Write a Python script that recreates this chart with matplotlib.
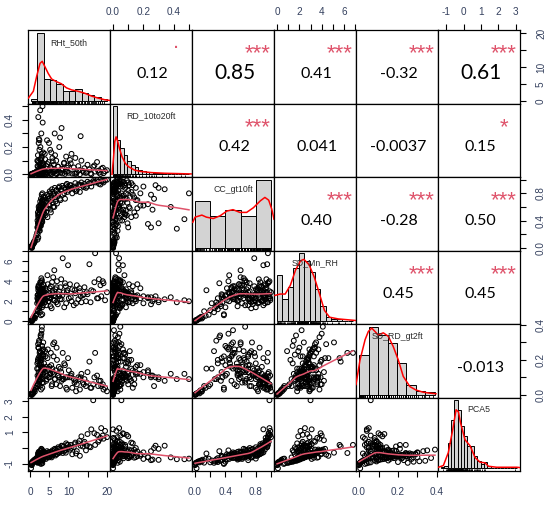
import numpy as np
import matplotlib
matplotlib.use("Agg")
import matplotlib.pyplot as plt

# ---------------- data (read/estimated from the reference) ----------------
var_names = ["RHt_50th", "RD_10to20ft", "CC_gt10ft", "SD_Mn_RH", "SD_RD_gt2ft", "PCA5"]

rht_50th = [
    0.3, 0.5, 0.4, 0.7, 0.9, 0.2, 0.6, 1.1, 0.8, 1.4, 0.3, 1.0, 0.5, 1.6, 0.4, 1.2,
    1.8, 1.9, 2.0, 2.0, 2.1, 2.1, 2.2, 2.2, 2.3, 2.3, 2.4, 2.4, 2.5, 2.5, 2.6, 2.6, 2.7, 2.7, 2.8, 2.8,
    2.9, 2.9, 3.0, 3.0, 3.1, 3.1, 3.2, 3.2, 3.3, 3.3, 3.4, 3.4,
    1.85, 1.95, 2.05, 2.15, 2.25, 2.35, 2.45, 2.55, 2.65, 2.75, 2.85, 2.95, 3.05, 3.15, 3.25, 3.35, 3.45,
    1.9, 2.0, 2.2, 2.4, 2.6, 2.8, 3.0, 3.2, 3.4, 2.1, 2.3, 2.5, 2.7, 2.9, 3.1, 3.3,
    3.6, 3.8, 4.0, 4.2, 4.4, 4.6, 4.8, 5.0, 5.2, 5.4, 5.6, 5.8, 6.0, 6.2, 6.4, 6.6, 6.8, 7.0, 7.3, 7.6,
    7.9, 8.2, 8.5, 8.8, 9.1, 9.4, 9.7, 9.9,
    3.5, 3.7, 3.9, 4.1, 4.3, 4.5, 4.7, 4.9, 5.1, 5.3, 5.5, 5.7, 5.9, 6.1, 6.3, 6.5, 6.9, 7.2, 7.5, 7.8,
    8.1, 8.4, 8.9, 9.3, 9.6, 10.1, 10.4,
    10.6, 11.0, 11.4, 11.8, 12.2, 12.6, 13.0, 13.4, 13.8, 14.2, 14.6, 15.0, 15.5, 16.0, 16.5, 17.0,
    17.5, 18.0, 18.6, 19.2, 19.6, 20.1,
    10.8, 11.6, 12.0, 12.9, 13.2, 14.0, 14.8, 15.8, 16.8, 17.8, 18.4, 19.0]
rd_10to20ft = [
    0.000, 0.002, 0.000, 0.005, 0.010, 0.000, 0.003, 0.008, 0.000, 0.015, 0.001, 0.006, 0.000, 0.020, 0.000, 0.004,
    0.010, 0.060, 0.000, 0.140, 0.025, 0.004, 0.230, 0.040, 0.012, 0.090, 0.000, 0.180, 0.030, 0.008, 0.470, 0.050,
    0.015, 0.110, 0.002, 0.070, 0.300, 0.020, 0.006, 0.130, 0.045, 0.000, 0.085, 0.500, 0.018, 0.035, 0.160, 0.003,
    0.100, 0.007, 0.055, 0.022, 0.260, 0.001, 0.075, 0.014, 0.200, 0.032, 0.009, 0.120, 0.048, 0.000, 0.380, 0.028, 0.065,
    0.005, 0.095, 0.016, 0.250, 0.038, 0.000, 0.150, 0.011, 0.068, 0.420, 0.020, 0.004, 0.105, 0.042, 0.013, 0.080,
    0.020, 0.150, 0.005, 0.060, 0.250, 0.010, 0.090, 0.030, 0.180, 0.000, 0.045, 0.120, 0.015, 0.070, 0.300, 0.025,
    0.100, 0.008, 0.055, 0.200, 0.012, 0.340, 0.040, 0.080, 0.003, 0.130, 0.020, 0.065,
    0.035, 0.002, 0.110, 0.016, 0.000, 0.075, 0.028, 0.230, 0.009, 0.050, 0.160, 0.004, 0.095, 0.022, 0.038, 0.140,
    0.001, 0.058, 0.014, 0.270, 0.033, 0.006, 0.085, 0.019, 0.048, 0.011, 0.105,
    0.080, 0.005, 0.050, 0.120, 0.015, 0.060, 0.000, 0.100, 0.025, 0.045, 0.010, 0.070, 0.035, 0.000, 0.055, 0.020,
    0.090, 0.012, 0.040, 0.008, 0.022, 0.030,
    0.150, 0.004, 0.003, 0.030, 0.280, 0.014, 0.018, 0.006, 0.065, 0.026, 0.002, 0.048]
cc_gt10ft = [
    0.01, 0.03, 0.00, 0.05, 0.08, 0.02, 0.04, 0.10, 0.06, 0.14, 0.01, 0.07, 0.02, 0.18, 0.00, 0.09,
    0.22, 0.40, 0.30, 0.52, 0.15, 0.45, 0.35, 0.60, 0.28, 0.48, 0.38, 0.62, 0.25, 0.55, 0.42, 0.68,
    0.33, 0.58, 0.46, 0.72, 0.36, 0.64, 0.50, 0.78, 0.40, 0.66, 0.55, 0.80, 0.44, 0.70, 0.58, 0.75,
    0.30, 0.20, 0.48, 0.35, 0.56, 0.26, 0.50, 0.40, 0.62, 0.32, 0.54, 0.45, 0.66, 0.38, 0.60, 0.70, 0.52,
    0.12, 0.36, 0.42, 0.30, 0.58, 0.38, 0.47, 0.64, 0.56, 0.28, 0.50, 0.34, 0.60, 0.44, 0.70, 0.49,
    0.55, 0.70, 0.48, 0.66, 0.78, 0.58, 0.72, 0.62, 0.80, 0.52, 0.74, 0.82, 0.60, 0.77, 0.88, 0.68,
    0.84, 0.65, 0.80, 0.90, 0.70, 0.86, 0.78, 0.88, 0.72, 0.92, 0.82, 0.90,
    0.62, 0.50, 0.74, 0.58, 0.68, 0.45, 0.76, 0.64, 0.83, 0.56, 0.70, 0.86, 0.66, 0.79, 0.60, 0.74,
    0.85, 0.76, 0.88, 0.72, 0.84, 0.91, 0.80, 0.87, 0.94, 0.85, 0.92,
    0.92, 0.80, 0.90, 0.95, 0.85, 0.93, 0.82, 0.96, 0.91, 0.94, 0.88, 0.97, 0.95, 0.90, 0.98, 0.96,
    0.99, 0.94, 0.98, 0.96, 0.99, 1.00,
    0.88, 0.86, 0.83, 0.93, 0.92, 0.89, 0.90, 0.95, 0.97, 0.97, 0.93, 0.98]
sd_mn_rh = [
    0.05, 0.12, 0.00, 0.30, 0.45, 0.08, 0.20, 0.40, 0.25, 0.55, 0.10, 0.35, 0.15, 0.65, 0.02, 0.28,
    1.8, 2.6, 1.2, 2.2, 3.1, 2.0, 2.4, 3.6, 1.5, 2.9, 2.3, 3.3, 0.9, 2.7, 2.1, 3.9,
    1.7, 2.5, 2.8, 3.0, 1.9, 4.3, 2.2, 3.5, 1.4, 2.6, 3.2, 2.0, 2.9, 1.6, 3.7, 2.4,
    2.3, 1.1, 3.4, 2.7, 2.0, 1.3, 3.0, 2.5, 1.8, 3.8, 2.2, 2.8, 4.1, 0.7, 2.4, 2.9, 3.2,
    1.0, 2.6, 3.3, 1.7, 2.8, 0.6, 2.5, 3.1, 2.1, 1.9, 3.5, 1.5, 2.7, 4.0, 2.3, 2.9,
    2.9, 2.2, 3.3, 1.6, 2.4, 3.7, 2.0, 2.8, 2.3, 3.5, 1.3, 3.0, 4.4, 2.6, 2.1, 3.2,
    1.9, 4.0, 2.7, 2.5, 3.4, 2.2, 6.3, 2.9, 3.8, 1.8, 3.1, 5.6,
    3.6, 2.4, 1.9, 3.1, 2.7, 4.6, 2.0, 2.3, 3.3, 1.5, 2.6, 3.9, 2.8, 2.1, 5.1, 2.5,
    3.4, 1.7, 3.0, 2.2, 4.2, 2.6, 1.4, 3.5, 2.9, 2.3, 3.7,
    2.4, 3.2, 1.6, 2.8, 3.6, 2.2, 3.0, 1.9, 2.6, 3.4, 2.0, 2.7, 5.7, 3.1, 3.0, 6.8,
    2.3, 4.2, 2.5, 3.8, 2.1, 2.9,
    2.0, 3.1, 1.8, 3.3, 2.5, 2.7, 2.9, 1.9, 3.9, 2.3, 3.6, 4.0]
sd_rd_gt2ft = [
    0.004, 0.010, 0.000, 0.015, 0.020, 0.006, 0.012, 0.030, 0.008, 0.040, 0.002, 0.025, 0.005, 0.050, 0.000, 0.018,
    0.15, 0.11, 0.20, 0.06, 0.15, 0.27, 0.13, 0.10, 0.31, 0.08, 0.22, 0.17, 0.25, 0.05, 0.12, 0.19,
    0.34, 0.09, 0.18, 0.24, 0.10, 0.21, 0.37, 0.14, 0.28, 0.07, 0.16, 0.09, 0.26, 0.23, 0.12, 0.30,
    0.18, 0.06, 0.29, 0.21, 0.11, 0.09, 0.24, 0.17, 0.13, 0.33, 0.15, 0.20, 0.39, 0.04, 0.12, 0.22, 0.26,
    0.05, 0.19, 0.27, 0.10, 0.21, 0.03, 0.16, 0.25, 0.14, 0.09, 0.30, 0.08, 0.20, 0.35, 0.13, 0.23,
    0.18, 0.13, 0.22, 0.08, 0.11, 0.26, 0.10, 0.16, 0.12, 0.24, 0.05, 0.15, 0.29, 0.12, 0.09, 0.14,
    0.06, 0.20, 0.11, 0.10, 0.15, 0.08, 0.24, 0.09, 0.17, 0.04, 0.10, 0.21,
    0.07, 0.15, 0.25, 0.16, 0.09, 0.21, 0.15, 0.14, 0.10, 0.12, 0.17, 0.06, 0.13, 0.22, 0.30, 0.09,
    0.27, 0.11, 0.16, 0.05, 0.13, 0.09, 0.18, 0.10, 0.03, 0.14, 0.10,
    0.11, 0.04, 0.09, 0.08, 0.06, 0.10, 0.03, 0.12, 0.07, 0.09, 0.05, 0.13, 0.19, 0.04, 0.06, 0.24,
    0.11, 0.08, 0.05, 0.03, 0.04, 0.02,
    0.12, 0.07, 0.02, 0.09, 0.10, 0.06, 0.07, 0.04, 0.10, 0.05, 0.08, 0.06]
pca5 = [
    -0.95, -0.90, -1.05, -0.85, -0.80, -1.30, -0.88, -0.75, -0.92, -0.70, -1.00, -0.82, -0.96, -0.68, -1.10, -0.86,
    -0.80, -0.55, -0.90, -0.62, -0.35, -0.70, -0.58, -0.25, -0.85, -0.45, -0.66, -0.40, -0.95, -0.50, -0.72, -0.18,
    -0.82, -0.60, -0.48, -0.52, -0.76, -0.05, -0.64, -0.30, -0.88, -0.56, -0.38, -0.68, -0.46, -0.78, -0.22, -0.60,
    -0.65, -0.92, -0.36, -0.50, -0.74, -0.86, -0.42, -0.58, -0.70, -0.20, -0.62, -0.48, -0.10, -0.98, -0.60, -0.44, -0.34,
    -0.94, -0.54, -0.40, -0.78, -0.50, -1.02, -0.58, -0.38, -0.66, -0.72, -0.28, -0.80, -0.52, -0.15, -0.62, -0.46,
    -0.55, -0.30, -0.62, -0.40, -0.20, -0.58, -0.45, -0.25, -0.50, -0.35, -0.60, -0.15, -0.42, -0.30, -0.05, -0.48,
    -0.22, -0.38, 0.05, -0.28, -0.10, 0.15, -0.32, 0.10, -0.18, 0.30, -0.05, 0.20,
    -0.62, -0.40, -0.55, -0.70, -0.35, -0.50, -0.28, -0.60, -0.45, -0.25, -0.52, -0.38, -0.20, -0.44, -0.30, -0.12,
    -0.40, -0.05, -0.32, 0.00, -0.22, 0.12, -0.15, -0.30, 0.20, 0.05, -0.10,
    0.20, -0.40, 0.05, 0.35, -0.20, 0.30, -0.50, 0.75, 0.10, 0.40, -0.15, 0.90, 0.10, 1.20, 3.07, 0.20,
    0.85, 0.50, 1.28, 0.60, 1.10, 0.70,
    0.00, 0.25, -0.35, 0.45, 0.15, 0.30, 0.15, 0.05, 0.95, 0.40, 0.65, 0.80]

# correlation labels (upper triangle, row-major) as printed in the reference
corr_text = ["0.12", "0.85", "0.41", "-0.32", "0.61",
             "0.42", "0.041", "-0.0037", "0.15",
             "0.40", "-0.28", "0.50",
             "0.45", "0.45",
             "-0.013"]
corr_stars = [".", "***", "***", "***", "***",
              "***", "", "", "*",
              "***", "***", "***",
              "***", "***",
              ""]

# histograms on the diagonal (bin edges, relative heights)
hist_edges = [
    [0, 1.75, 3.5, 5.25, 7, 8.75, 10.5, 12.25, 14, 15.75, 17.5, 19.25, 21],
    [0, 0.025, 0.05, 0.075, 0.1, 0.125, 0.15, 0.175, 0.2, 0.225, 0.25, 0.275, 0.3, 0.325, 0.35, 0.375,
     0.4, 0.425, 0.45, 0.475, 0.5, 0.525],
    [0, 0.2, 0.4, 0.6, 0.8, 1.0],
    [0, 0.5, 1, 1.5, 2, 2.5, 3, 3.5, 4, 4.5, 5, 5.5, 6, 6.5, 7],
    [0, 0.05, 0.1, 0.15, 0.2, 0.25, 0.3, 0.35, 0.4],
    [-1.4, -1.2, -1.0, -0.8, -0.6, -0.4, -0.2, 0.0, 0.2, 0.4, 0.6, 0.8, 1.0, 1.2, 1.4, 1.6, 1.8, 2.0,
     2.2, 2.4, 2.6, 2.8, 3.0, 3.2],
]
hist_heights = [
    [0.025, 1.0, 0.32, 0.31, 0.25, 0.15, 0.14, 0.17, 0.11, 0.09, 0.05, 0.03],
    [1.0, 0.5, 0.38, 0.28, 0.2, 0.14, 0.1, 0.07, 0.05, 0.04, 0.03, 0.02, 0.02, 0.015, 0.01, 0.008,
     0.006, 0.005, 0.004, 0.003, 0.003],
    [0.69, 0.47, 0.56, 0.47, 1.0],
    [0.68, 0.33, 0.5, 0.78, 1.0, 0.88, 0.72, 0.48, 0.22, 0.06, 0.035, 0.035, 0.01, 0.01],
    [0.59, 1.0, 0.88, 0.76, 0.47, 0.15, 0.06, 0.035],
    [0.02, 0.04, 0.375, 0.71, 1.0, 0.86, 0.62, 0.47, 0.33, 0.33, 0.18, 0.11, 0.06, 0.09, 0.04, 0.01,
     0, 0, 0, 0, 0, 0, 0.01],
]
# density curves on the diagonal
dens_x = [
    [-0.73, 0.64, 1.56, 2.48, 3.1, 3.85, 4.77, 5.7, 7.06, 8.4, 9.8, 11.2, 13, 14.9, 16.7, 18.5, 20.4, 21.8],
    [-0.007, 0.002, 0.012, 0.021, 0.03, 0.044, 0.062, 0.085, 0.108, 0.15, 0.196, 0.265, 0.357, 0.45, 0.54],
    [-0.03, 0.0, 0.09, 0.15, 0.24, 0.33, 0.42, 0.5, 0.59, 0.68, 0.77, 0.86, 0.92, 0.97, 1.01, 1.04],
    [-0.19, 0.28, 0.75, 1.23, 1.7, 2.17, 2.48, 2.96, 3.43, 3.9, 4.37, 4.84, 5.63, 7.36],
    [-0.016, 0.005, 0.032, 0.049, 0.067, 0.084, 0.1, 0.128, 0.154, 0.18, 0.207, 0.233, 0.268, 0.30,
     0.335, 0.37, 0.405],
    [-1.56, -1.26, -0.96, -0.69, -0.49, -0.35, -0.21, 0.05, 0.36, 0.66, 0.96, 1.27, 1.47, 1.97, 3.19, 3.39],
]
dens_y = [
    [0.04, 0.14, 0.36, 0.55, 0.58, 0.50, 0.40, 0.32, 0.28, 0.25, 0.19, 0.16, 0.14, 0.11, 0.07, 0.04, 0.015, 0.005],
    [0.0, 0.21, 0.48, 0.55, 0.50, 0.38, 0.26, 0.16, 0.11, 0.06, 0.04, 0.025, 0.015, 0.01, 0.005],
    [0.375, 0.45, 0.48, 0.45, 0.43, 0.47, 0.54, 0.56, 0.52, 0.52, 0.59, 0.69, 0.74, 0.70, 0.57, 0.42],
    [0.38, 0.40, 0.40, 0.53, 0.75, 0.89, 0.91, 0.83, 0.65, 0.41, 0.16, 0.06, 0.035, 0.01],
    [0.15, 0.51, 0.81, 0.93, 0.98, 0.93, 0.88, 0.91, 0.86, 0.71, 0.51, 0.27, 0.12, 0.07, 0.04, 0.025, 0.015],
    [0.015, 0.04, 0.23, 0.57, 0.86, 0.83, 0.66, 0.42, 0.33, 0.16, 0.09, 0.08, 0.03, 0.015, 0.015, 0.01],
]

# axis ticks per variable
tick_vals = [[0, 5, 10, 15, 20],
             [0, 0.1, 0.2, 0.3, 0.4, 0.5],
             [0, 0.2, 0.4, 0.6, 0.8, 1.0],
             [0, 1, 2, 3, 4, 5, 6, 7],
             [0, 0.1, 0.2, 0.3, 0.4],
             [-1, 0, 1, 2, 3]]
tick_labs_h = [["0", "5", "10", "", "20"],
               ["0.0", "", "0.2", "", "0.4", ""],
               ["0.0", "", "0.4", "", "0.8", ""],
               ["0", "", "2", "", "4", "", "6", ""],
               ["0.0", "", "0.2", "", "0.4"],
               ["-1", "0", "1", "2", "3"]]
tick_labs_v = [["0", "5", "10", "", "20"],
               ["0.0", "", "0.2", "", "0.4", ""],
               ["0.0", "", "0.4", "", "0.8", ""],
               ["0", "", "2", "", "4", "", "6", ""],
               ["0.0", "", "0.2", "", "0.4"],
               ["-1", "", "1", "2", "3"]]

# ---------------- helpers ----------------
def lowess(x, y, f=2 / 3, iters=3):
    o = np.argsort(x, kind="stable")
    x = x[o]; y = y[o]
    n = len(x); r = int(np.ceil(f * n))
    rob = np.ones(n); fit = np.zeros(n)
    for it in range(iters + 1):
        for i in range(n):
            d = np.abs(x - x[i])
            h = max(np.sort(d)[r - 1], 1e-12)
            u = np.clip(d / h, 0, 1)
            w = (1 - u ** 3) ** 3 * rob
            sw = w.sum()
            xm = (w * x).sum() / sw; ym = (w * y).sum() / sw
            sxx = (w * (x - xm) ** 2).sum()
            b = (w * (x - xm) * (y - ym)).sum() / sxx if sxx > 1e-12 else 0.0
            fit[i] = ym + b * (x[i] - xm)
        if it == iters:
            break
        res = y - fit
        s = np.median(np.abs(res))
        if s <= 0:
            break
        u = np.clip(res / (6 * s), -1, 1)
        rob = (1 - u ** 2) ** 2
    return x, fit


def rlims(v):
    lo, hi = float(np.min(v)), float(np.max(v))
    r = hi - lo
    return lo - 0.04 * r, hi + 0.04 * r


# ---------------- figure ----------------
W, H = 550, 505
fig = plt.figure(figsize=(W / 100, H / 100), dpi=100)
L, R, T, B = 28, 520, 30, 471
nv = 6
cw = (R - L) / nv
rh = (B - T) / nv

data = [np.asarray(v, float) for v in (rht_50th, rd_10to20ft, cc_gt10ft, sd_mn_rh, sd_rd_gt2ft, pca5)]
lims = [rlims(v) for v in data]

TICK_FONT = dict(family=["Liberation Sans", "DejaVu Sans"], size=7.2, color="#34405e")
STAR_COL = "#DF536B"
SMOOTH_COL = "#DF536B"

k = 0
for i in range(nv):        # row
    for j in range(nv):    # column
        x0 = L + j * cw
        y0 = T + i * rh
        ax = fig.add_axes([x0 / W, 1 - (y0 + rh) / H, cw / W, rh / H])
        ax.set_xticks([]); ax.set_yticks([])
        for s in ax.spines.values():
            s.set_linewidth(0.9); s.set_color("black")

        if i == j:
            e = np.asarray(hist_edges[i], float)
            hh = np.asarray(hist_heights[i], float)
            er = e[-1] - e[0]
            ax.set_xlim(e[0] - 0.04 * er, e[-1] + 0.04 * er)
            ax.set_ylim(-0.04, 1.04)
            ax.bar(e[:-1], hh, width=np.diff(e), align="edge", color="#D3D3D3",
                   edgecolor="black", linewidth=0.7, zorder=2)
            ax.plot(dens_x[i], dens_y[i], color="red", lw=1.1, zorder=3)
            ax.vlines(data[i], -0.04, -0.04 + 0.03 * 1.08, color="black", lw=0.6, zorder=4)
            ax.text(0.5, 0.833, var_names[i], transform=ax.transAxes, ha="center", va="center",
                    fontsize=6.3, family=["Liberation Sans", "DejaVu Sans"], color="#2b2b2b", zorder=5)
        else:
            ax.set_xlim(*lims[j]); ax.set_ylim(*lims[i])
            if i > j:
                ax.scatter(data[j], data[i], s=12, facecolors="none", edgecolors="black",
                           linewidths=0.75, zorder=2)
                lx, ly = lowess(data[j], data[i])
                ax.plot(lx, ly, color=SMOOTH_COL, lw=1.1, zorder=3)
            else:
                txt = corr_text[k]; star = corr_stars[k]; k += 1
                big = abs(float(txt)) > 0.55
                fs = 15.0 if big else 11.5
                fs_px = fs * 100 / 72
                yb = 0.43 - 0.36 * fs_px / rh
                ax.text(0.52, yb, txt, transform=ax.transAxes, ha="center", va="baseline",
                        fontsize=fs, family=["Lato", "DejaVu Sans"], color="black")
                if star:
                    sy = 0.76 if star == "." else 0.60
                    ax.text(0.80, sy, star, transform=ax.transAxes, ha="center", va="baseline",
                            fontsize=16, family=["Liberation Sans", "DejaVu Sans"], color=STAR_COL)

        # outer axes (R pairs style, alternating)
        if i == 0 and j % 2 == 1:
            ax.xaxis.set_ticks_position("top")
            ax.set_xticks(tick_vals[j])
            ax.set_xticklabels(tick_labs_h[j], **TICK_FONT)
            ax.tick_params(axis="x", top=True, bottom=False, labeltop=True, labelbottom=False,
                           direction="out", length=4.5, width=0.8, pad=5.0)
        if i == nv - 1 and j % 2 == 0:
            ax.set_xticks(tick_vals[j])
            ax.set_xticklabels(tick_labs_h[j], **TICK_FONT)
            ax.tick_params(axis="x", direction="out", length=4.5, width=0.8, pad=7.0)
        if j == 0 and i % 2 == 1:
            ax.set_yticks(tick_vals[i])
            ax.set_yticklabels(tick_labs_v[i], rotation=90, va="center", **TICK_FONT)
            ax.tick_params(axis="y", direction="out", length=4.5, width=0.8, pad=5.0)
        if j == nv - 1 and i % 2 == 0:
            ax.yaxis.set_ticks_position("right")
            ax.set_yticks(tick_vals[i])
            ax.set_yticklabels(tick_labs_v[i], rotation=90, va="center", **TICK_FONT)
            ax.tick_params(axis="y", right=True, left=False, labelright=True, labelleft=False,
                           direction="out", length=4.5, width=0.8, pad=7.0)
        if i != j:
            ax.set_xlim(*lims[j]); ax.set_ylim(*lims[i])

fig.savefig("out.png", dpi=100, facecolor="white")
